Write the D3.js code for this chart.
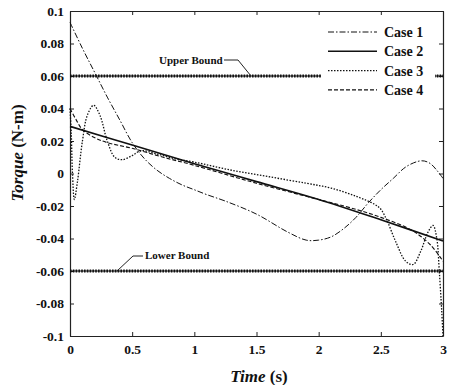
<!DOCTYPE html>
<html>
<head>
<meta charset="utf-8">
<script src="https://cdn.jsdelivr.net/npm/d3@7"></script>
<style>
	body { margin: 0; background: #fff; }
	svg text { font-family: "Liberation Serif", "Times New Roman", serif; font-weight: bold; fill: #111; }
</style>
</head>
<body>
<div id="chart"></div>
<script>
// chart data
var xTicks = [0, 0.5, 1, 1.5, 2, 2.5, 3];
var yTicks = [-0.1, -0.08, -0.06, -0.04, -0.02, 0, 0.02, 0.04, 0.06, 0.08, 0.1];
var caseNames = ['Case 1', 'Case 2', 'Case 3', 'Case 4'];
var upperBound = 0.06;
var lowerBound = -0.06;

var case1T = [0, 0.1, 0.2, 0.3, 0.4, 0.5, 0.6, 0.7, 0.8, 0.9, 1.0, 1.1, 1.25, 1.5, 1.75, 1.9, 2.0, 2.1, 2.2, 2.3, 2.4, 2.5, 2.6, 2.7, 2.8, 2.85, 2.9, 2.95, 3.0];
var case1Y = [0.093, 0.077, 0.062, 0.047, 0.033, 0.019, 0.009, 0.002, -0.003, -0.007, -0.010, -0.013, -0.017, -0.025, -0.036, -0.041, -0.041, -0.039, -0.034, -0.027, -0.018, -0.010, -0.003, 0.004, 0.0075, 0.0077, 0.006, 0.002, -0.003];

var case2T = [0, 0.5, 1.0, 1.5, 2.0, 2.5, 3.0];
var case2Y = [0.029, 0.0175, 0.0060, -0.0050, -0.0160, -0.0285, -0.0415];

var case3T = [0, 0.01, 0.02, 0.035, 0.06, 0.1, 0.14, 0.19, 0.24, 0.3, 0.36, 0.42, 0.5, 0.57, 0.7, 0.85, 1.0, 1.3, 1.6, 1.9, 2.1, 2.3, 2.45, 2.5, 2.55, 2.62, 2.7, 2.76, 2.82, 2.88, 2.92, 2.95, 2.97, 2.99, 3.0];
var case3Y = [0.040, 0.025, 0.0, -0.016, -0.005, 0.020, 0.036, 0.042, 0.036, 0.020, 0.010, 0.0085, 0.011, 0.014, 0.012, 0.009, 0.007, 0.002, -0.002, -0.006, -0.009, -0.014, -0.019, -0.022, -0.029, -0.042, -0.054, -0.056, -0.048, -0.036, -0.032, -0.040, -0.060, -0.085, -0.100];

var case4T = [0, 0.05, 0.1, 0.2, 0.3, 0.5, 0.75, 1.0, 1.5, 2.0, 2.25, 2.5, 2.75, 2.9, 3.0];
var case4Y = [0.040, 0.033, 0.027, 0.022, 0.019, 0.0155, 0.010, 0.005, -0.006, -0.016, -0.021, -0.027, -0.035, -0.044, -0.054];

(function() {
	var width = 449, height = 385;
	var margin = { left: 70, top: 11, right: 6, bottom: 49 };
	var innerW = width - margin.left - margin.right;
	var innerH = height - margin.top - margin.bottom;

	var svg = d3.select('#chart').append('svg')
		.attr('width', width)
		.attr('height', height);

	var x = d3.scaleLinear().domain([0, 3]).range([margin.left, margin.left + innerW]);
	var y = d3.scaleLinear().domain([-0.1, 0.1]).range([margin.top + innerH, margin.top]);

	// plain hyphen for negatives, like the original figure
	var fmt = function(d) { return String(+d.toFixed(2)); };

	// axes, ticks point inward, mirrored on top/right
	svg.append('g')
		.attr('transform', 'translate(0,' + y(-0.1) + ')')
		.call(d3.axisBottom(x).tickValues(xTicks).tickSizeInner(-4).tickSizeOuter(0).tickPadding(8).tickFormat(fmt))
		.call(function(g) { g.selectAll('text').attr('font-size', 13.5); });
	svg.append('g')
		.attr('transform', 'translate(0,' + y(0.1) + ')')
		.call(d3.axisTop(x).tickValues(xTicks).tickSizeInner(-4).tickSizeOuter(0).tickFormat(''));
	svg.append('g')
		.attr('transform', 'translate(' + x(0) + ',0)')
		.call(d3.axisLeft(y).tickValues(yTicks).tickSizeInner(-4).tickSizeOuter(0).tickPadding(6).tickFormat(fmt))
		.call(function(g) { g.selectAll('text').attr('font-size', 13.5); });
	svg.append('g')
		.attr('transform', 'translate(' + x(3) + ',0)')
		.call(d3.axisRight(y).tickValues(yTicks).tickSizeInner(-4).tickSizeOuter(0).tickFormat(''));

	svg.selectAll('.domain').attr('stroke', '#222').attr('stroke-width', 1.2);
	svg.selectAll('.tick line').attr('stroke', '#222');

	// bound lines (dense diamond markers)
	[upperBound, lowerBound].forEach(function(b) {
		svg.append('line')
			.attr('x1', x(0)).attr('x2', x(3))
			.attr('y1', y(b)).attr('y2', y(b))
			.attr('stroke', '#111').attr('stroke-width', 1);
		svg.append('line')
			.attr('x1', x(0)).attr('x2', x(3))
			.attr('y1', y(b)).attr('y2', y(b))
			.attr('stroke', '#111').attr('stroke-width', 3)
			.attr('stroke-dasharray', '1.6,1.2');
	});

	// curves
	var series = [
		{ t: case1T, v: case1Y, dash: '6,2,1.5,2', w: 1 },
		{ t: case2T, v: case2Y, dash: null, w: 1.6 },
		{ t: case3T, v: case3Y, dash: '1.5,1.5', w: 1.3 },
		{ t: case4T, v: case4Y, dash: '4,2', w: 1.1 }
	];
	var line = d3.line()
		.x(function(d) { return x(d[0]); })
		.y(function(d) { return y(d[1]); })
		.curve(d3.curveCatmullRom.alpha(0.5));

	series.forEach(function(s) {
		svg.append('path')
			.datum(d3.zip(s.t, s.v))
			.attr('d', line)
			.attr('fill', 'none')
			.attr('stroke', '#111')
			.attr('stroke-width', s.w)
			.attr('stroke-dasharray', s.dash);
	});

	// legend
	var lg = svg.append('g');
	lg.append('rect')
		.attr('x', 321).attr('y', 20).attr('width', 114).attr('height', 82)
		.attr('fill', '#fff');
	caseNames.forEach(function(name, i) {
		var ly = 32 + i * 19.3;
		lg.append('line')
			.attr('x1', 328).attr('x2', 377)
			.attr('y1', ly).attr('y2', ly)
			.attr('stroke', '#111')
			.attr('stroke-width', series[i].w)
			.attr('stroke-dasharray', series[i].dash);
		lg.append('text')
			.attr('x', 384).attr('y', ly + 5)
			.attr('font-size', 14)
			.text(name);
	});

	// bound annotations
	svg.append('text').attr('x', 159).attr('y', 64).attr('font-size', 11).text('Upper Bound');
	svg.append('polyline')
		.attr('points', '224,60 238,60 251,' + y(upperBound))
		.attr('fill', 'none').attr('stroke', '#222');
	svg.append('text').attr('x', 145).attr('y', 259).attr('font-size', 11).text('Lower Bound');
	svg.append('polyline')
		.attr('points', '117,' + y(lowerBound) + ' 133,256 143,256')
		.attr('fill', 'none').attr('stroke', '#222');

	// axis titles
	var xt = svg.append('text')
		.attr('x', 259).attr('y', 382)
		.attr('text-anchor', 'middle')
		.attr('font-size', 17);
	xt.append('tspan').attr('font-style', 'italic').text('Time');
	xt.append('tspan').text(' (s)');

	var yt = svg.append('text')
		.attr('transform', 'translate(23,153) rotate(-90)')
		.attr('text-anchor', 'middle')
		.attr('font-size', 17);
	yt.append('tspan').attr('font-style', 'italic').text('Torque');
	yt.append('tspan').text(' (N-m)');
})();
</script>
</body>
</html>
